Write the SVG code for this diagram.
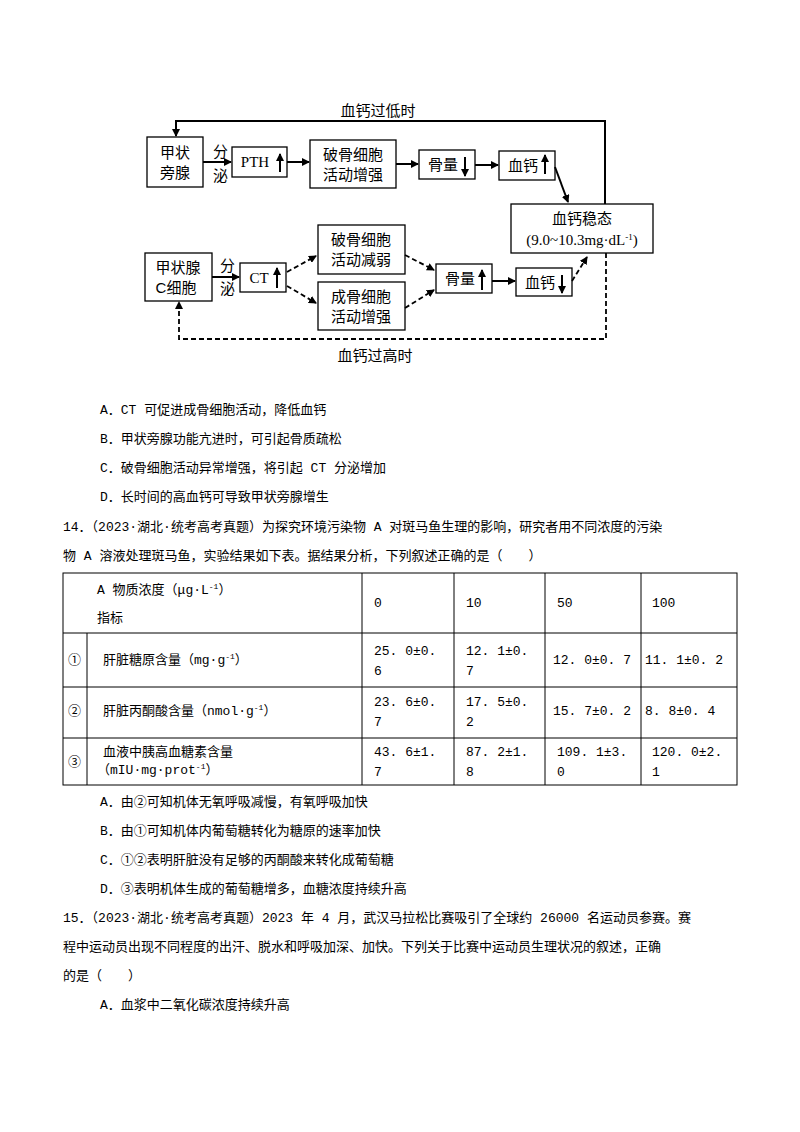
<svg xmlns="http://www.w3.org/2000/svg" width="800" height="1132" viewBox="0 0 800 1132">
<defs>
<marker id="ah" markerWidth="8" markerHeight="8" refX="7" refY="4" orient="auto" markerUnits="userSpaceOnUse"><path d="M0,0 L8,4 L0,8 Z" fill="#000"/></marker>
<style>
.b{fill:#fff;stroke:#000;stroke-width:1.3}
.t{font-family:"Liberation Sans","Noto Sans CJK SC",sans-serif;font-size:15px;fill:#000}
.s{font-family:"Liberation Serif","Noto Sans CJK SC",serif;font-size:15px;fill:#000}
.c{stroke:#000;stroke-width:2;fill:none}
.d{stroke:#000;stroke-width:1.8;fill:none;stroke-dasharray:5,3}
.p{font-family:"Liberation Mono","Noto Sans CJK SC",monospace;font-size:13px;fill:#000}
.tb{stroke:#000;stroke-width:1;fill:none}
</style>
</defs>
<rect width="800" height="1132" fill="#fff"/>
<g id="n1"><rect class="b" x="147" y="137" width="56" height="50"/><text class="t" x="175" y="158" text-anchor="middle">甲状</text><text class="t" x="175" y="178" text-anchor="middle">旁腺</text></g>
<g id="n2"><rect class="b" x="232" y="147" width="55" height="30"/><text class="s" x="255" y="167" text-anchor="middle">PTH</text><path d="M280,172 V154" class="c" marker-end="url(#ah)"/></g>
<g id="n3"><rect class="b" x="310" y="140" width="86" height="48"/><text class="t" x="353" y="160" text-anchor="middle">破骨细胞</text><text class="t" x="353" y="180" text-anchor="middle">活动增强</text></g>
<g id="n4"><rect class="b" x="419" y="150" width="56" height="29"/><text class="t" x="443" y="170" text-anchor="middle">骨量</text><path d="M465,157 V176" class="c" marker-end="url(#ah)"/></g>
<g id="n5"><rect class="b" x="499" y="151" width="56" height="29"/><text class="t" x="523" y="171" text-anchor="middle">血钙</text><path d="M545,174 V155" class="c" marker-end="url(#ah)"/></g>
<g id="n6"><rect class="b" x="511" y="204" width="142" height="49"/><text class="t" x="582" y="224" text-anchor="middle">血钙稳态</text><text class="s" x="582" y="245" text-anchor="middle">(9.0~10.3mg·dL<tspan font-size="9" dy="-5">-1</tspan><tspan dy="5">)</tspan></text></g>
<g id="n7"><rect class="b" x="145" y="253" width="67" height="48"/><text class="t" x="178" y="273" text-anchor="middle">甲状腺</text><text class="t" x="176" y="293" text-anchor="middle">C细胞</text></g>
<g id="n8"><rect class="b" x="240" y="263" width="46" height="29"/><text class="s" x="259" y="283" text-anchor="middle">CT</text><path d="M277,288 V268" class="c" marker-end="url(#ah)"/></g>
<g id="n9"><rect class="b" x="318" y="225" width="87" height="49"/><text class="t" x="361" y="245" text-anchor="middle">破骨细胞</text><text class="t" x="361" y="265" text-anchor="middle">活动减弱</text></g>
<g id="n10"><rect class="b" x="318" y="282" width="87" height="48"/><text class="t" x="361" y="302" text-anchor="middle">成骨细胞</text><text class="t" x="361" y="322" text-anchor="middle">活动增强</text></g>
<g id="n11"><rect class="b" x="436" y="264" width="56" height="29"/><text class="t" x="460" y="284" text-anchor="middle">骨量</text><path d="M482,290 V270" class="c" marker-end="url(#ah)"/></g>
<g id="n12"><rect class="b" x="516" y="268" width="56" height="28"/><text class="t" x="540" y="288" text-anchor="middle">血钙</text><path d="M562,275 V293" class="c" marker-end="url(#ah)"/></g>
<g id="connectors">
<path class="c" d="M605,204 V121 H176 V136" marker-end="url(#ah)"/>
<path class="c" d="M203,162 H231" marker-end="url(#ah)"/>
<path class="c" d="M287,162 H309" marker-end="url(#ah)"/>
<path class="c" d="M396,164 H418" marker-end="url(#ah)"/>
<path class="c" d="M475,165 H498" marker-end="url(#ah)"/>
<path class="c" d="M555,167 L568,202" marker-end="url(#ah)"/>
<path class="c" d="M212,277 H239" marker-end="url(#ah)"/>
<path class="d" d="M287,272 L316,256" marker-end="url(#ah)"/>
<path class="d" d="M287,286 L316,303" marker-end="url(#ah)"/>
<path class="d" d="M405,255 L434,270" marker-end="url(#ah)"/>
<path class="d" d="M405,308 L434,290" marker-end="url(#ah)"/>
<path class="c" d="M492,281 H515" marker-end="url(#ah)"/>
<path class="d" d="M572,281 L587,257" marker-end="url(#ah)"/>
<path class="d" d="M606,253 V339 H179 V302" marker-end="url(#ah)"/>
</g>
<text class="t" x="213" y="157">分</text><text class="t" x="213" y="181">泌</text>
<text class="t" x="220" y="271">分</text><text class="t" x="220" y="294">泌</text>
<text class="t" x="378" y="116" text-anchor="middle">血钙过低时</text>
<text class="t" x="375" y="361" text-anchor="middle">血钙过高时</text>
<g class="p">
<text x="100" y="414">A．CT 可促进成骨细胞活动，降低血钙</text>
<text x="100" y="443">B．甲状旁腺功能亢进时，可引起骨质疏松</text>
<text x="100" y="472">C．破骨细胞活动异常增强，将引起 CT 分泌增加</text>
<text x="100" y="501">D．长时间的高血钙可导致甲状旁腺增生</text>
<text x="63" y="531">14．（2023·湖北·统考高考真题）为探究环境污染物 A 对斑马鱼生理的影响，研究者用不同浓度的污染</text>
<text x="63" y="560">物 A 溶液处理斑马鱼，实验结果如下表。据结果分析，下列叙述正确的是（　　）</text>
</g>
<g id="table">
<rect class="tb" x="63" y="573" width="674" height="212"/>
<path class="tb" d="M63,633 H737 M63,687 H737 M63,738 H737 M87,633 V785 M362,573 V785 M454,573 V785 M545,573 V785 M641,573 V785"/>
<g class="p" font-size="12">
<text x="97" y="594">A 物质浓度（μg·L<tspan font-size="8" dy="-5">-1</tspan><tspan dy="5">）</tspan></text>
<text x="97" y="622">指标</text>
<text x="374" y="607">0</text><text x="466" y="607">10</text><text x="557" y="607">50</text><text x="652" y="607">100</text>
<text x="68" y="664">①</text><text x="103" y="664">肝脏糖原含量（mg·g<tspan font-size="8" dy="-5">-1</tspan><tspan dy="5">）</tspan></text>
<text x="374" y="655">25. 0±0.</text><text x="374" y="675">6</text>
<text x="466" y="655">12. 1±0.</text><text x="466" y="675">7</text>
<text x="553" y="664">12. 0±0. 7</text><text x="645" y="664">11. 1±0. 2</text>
<text x="68" y="715">②</text><text x="103" y="715">肝脏丙酮酸含量（nmol·g<tspan font-size="8" dy="-5">-1</tspan><tspan dy="5">）</tspan></text>
<text x="374" y="706">23. 6±0.</text><text x="374" y="726">7</text>
<text x="466" y="706">17. 5±0.</text><text x="466" y="726">2</text>
<text x="553" y="715">15. 7±0. 2</text><text x="645" y="715">8. 8±0. 4</text>
<text x="68" y="766">③</text><text x="103" y="756">血液中胰高血糖素含量</text><text x="97" y="774">（mIU·mg·prot<tspan font-size="8" dy="-5">-1</tspan><tspan dy="5">）</tspan></text>
<text x="374" y="756">43. 6±1.</text><text x="374" y="776">7</text>
<text x="466" y="756">87. 2±1.</text><text x="466" y="776">8</text>
<text x="557" y="756">109. 1±3.</text><text x="557" y="776">0</text>
<text x="652" y="756">120. 0±2.</text><text x="652" y="776">1</text>
</g>
</g>
<g class="p">
<text x="100" y="806">A．由②可知机体无氧呼吸减慢，有氧呼吸加快</text>
<text x="100" y="835">B．由①可知机体内葡萄糖转化为糖原的速率加快</text>
<text x="100" y="864">C．①②表明肝脏没有足够的丙酮酸来转化成葡萄糖</text>
<text x="100" y="893">D．③表明机体生成的葡萄糖增多，血糖浓度持续升高</text>
<text x="63" y="922">15．（2023·湖北·统考高考真题）2023 年 4 月，武汉马拉松比赛吸引了全球约 26000 名运动员参赛。赛</text>
<text x="63" y="951">程中运动员出现不同程度的出汗、脱水和呼吸加深、加快。下列关于比赛中运动员生理状况的叙述，正确</text>
<text x="63" y="980">的是（　　）</text>
<text x="100" y="1009">A．血浆中二氧化碳浓度持续升高</text>
</g>
</svg>
